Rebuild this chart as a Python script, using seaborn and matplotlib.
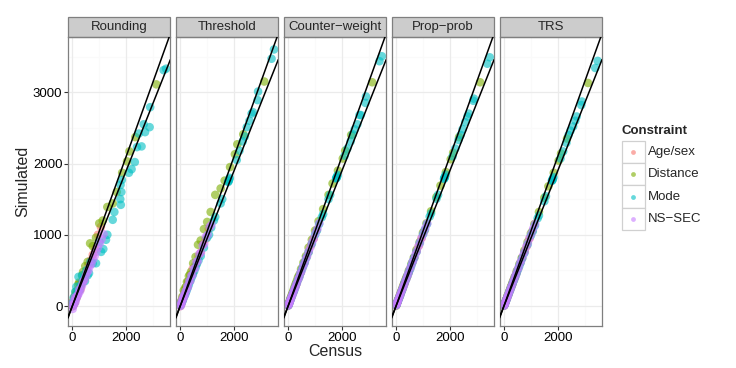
import numpy as np
import pandas as pd
import seaborn as sns
import matplotlib
matplotlib.use("Agg")
import matplotlib.pyplot as plt
from matplotlib.patches import Rectangle

# %% data
methods = ["Rounding", "Threshold", "Counter\u2212weight", "Prop\u2212prob", "TRS"]
constraints = ["Age/sex", "Distance", "Mode", "NS\u2212SEC"]
colors = ["#F8766D", "#7CAE00", "#00BFC4", "#C77CFF"]

age_census = [10, 25, 45, 65, 90, 115, 140, 170, 200, 240, 280, 320, 370, 420, 480,
              540, 610, 680, 760, 850, 950, 1060, 300, 400, 460]
age_rounding = [30, 0, 70, 40, 120, 90, 170, 140, 230, 210, 320, 280, 340, 400, 450,
                500, 580, 640, 720, 800, 1000, 1110, 230, 340, 380]
age_threshold = [0, 40, 30, 80, 80, 130, 130, 190, 190, 260, 270, 340, 360, 440, 470,
                 560, 600, 700, 750, 870, 940, 1080, 330, 430, 520]
age_counter = [10, 30, 45, 70, 90, 120, 140, 175, 200, 245, 280, 325, 370, 425, 480,
               545, 610, 685, 760, 855, 950, 1065, 300, 405, 465]
age_prop = [15, 25, 50, 65, 95, 115, 145, 170, 205, 240, 285, 320, 375, 420, 485,
            540, 615, 680, 765, 850, 955, 1060, 305, 400, 460]
age_trs = [10, 20, 45, 60, 90, 110, 140, 165, 200, 235, 280, 315, 370, 415, 480,
           535, 610, 675, 760, 845, 950, 1055, 295, 395, 455]

dist_census = [5, 20, 40, 60, 80, 105, 130, 160, 190, 220, 250, 285, 320, 360, 400,
               480, 570, 660, 760, 880, 1000, 1130, 1300, 1500, 1650, 1850, 2030, 2120,
               2340, 3120]
dist_rounding = [0, 60, 20, 110, 40, 150, 200, 120, 170, 300, 330, 250, 300, 430, 480,
                 560, 620, 880, 840, 960, 1160, 1200, 1390, 1440, 1600, 1870, 2030, 2170,
                 2370, 3110]
dist_threshold = [20, 40, 70, 80, 130, 130, 220, 200, 260, 270, 340, 340, 420, 440, 480,
                  600, 690, 860, 920, 1080, 1180, 1320, 1560, 1650, 1760, 1950, 2130, 2270,
                  2410, 3150]
dist_counter = [10, 25, 50, 70, 100, 120, 150, 180, 210, 245, 280, 315, 350, 395, 430,
                520, 610, 700, 820, 930, 1060, 1190, 1360, 1560, 1720, 1900, 2070, 2180,
                2400, 3140]
dist_prop = [5, 25, 45, 65, 90, 110, 140, 170, 200, 230, 265, 300, 335, 375, 415,
             500, 590, 680, 790, 900, 1030, 1160, 1330, 1530, 1690, 1880, 2060, 2150,
             2370, 3140]
dist_trs = [5, 20, 45, 60, 85, 105, 140, 160, 195, 225, 260, 290, 330, 365, 410,
            495, 585, 675, 780, 900, 1020, 1150, 1320, 1520, 1680, 1870, 2040, 2140,
            2350, 3130]

mode_census = [10, 30, 50, 80, 110, 150, 190, 230, 270, 320, 370, 420, 470, 520, 570,
               620, 680, 760, 880, 1070, 1250, 1500, 1560, 1800, 1820, 1840, 2100, 2200,
               2320, 2400, 2470, 2570, 2650, 2700, 2870, 2890, 3390, 3480,
               1000, 1150, 1300, 1780, 1790]
mode_rounding = [40, 50, 120, 90, 200, 270, 190, 410, 230, 300, 430, 380, 350, 500, 430,
                 460, 620, 600, 600, 760, 930, 1210, 1320, 1420, 1600, 1770, 1870, 1920,
                 2020, 2230, 2420, 2240, 2550, 2440, 2510, 2790, 3310, 3330,
                 900, 800, 1000, 1500, 1700]
mode_threshold = [10, 30, 50, 70, 100, 140, 170, 210, 250, 300, 350, 400, 440, 490, 540,
                  590, 640, 700, 820, 1000, 1200, 1440, 1500, 1760, 1780, 1800, 2050, 2180,
                  2310, 2380, 2510, 2600, 2700, 2720, 2890, 3010, 3470, 3600,
                  960, 1100, 1250, 1740, 1750]
mode_counter = [10, 30, 50, 80, 110, 150, 190, 225, 270, 320, 370, 415, 470, 520, 570,
                615, 680, 755, 875, 1060, 1245, 1500, 1560, 1800, 1820, 1840, 2110, 2210,
                2310, 2410, 2480, 2550, 2680, 2680, 2850, 2940, 3435, 3505,
                1000, 1150, 1290, 1790, 1800]
mode_prop = [15, 30, 55, 80, 110, 145, 190, 230, 270, 325, 370, 420, 470, 515, 570,
             625, 680, 760, 885, 1070, 1255, 1505, 1560, 1805, 1815, 1845, 2100, 2210,
             2330, 2400, 2480, 2580, 2660, 2700, 2880, 2910, 3400, 3490,
             1005, 1150, 1300, 1785, 1790]
mode_trs = [10, 30, 45, 75, 105, 145, 185, 225, 265, 315, 360, 410, 460, 510, 560,
            610, 670, 745, 865, 1050, 1230, 1470, 1540, 1770, 1790, 1810, 2070, 2170,
            2290, 2400, 2460, 2520, 2600, 2660, 2820, 2870, 3340, 3440,
            990, 1130, 1270, 1760, 1760]

nssec_census = [5, 15, 30, 45, 60, 80, 100, 120, 145, 170, 200, 230, 260, 290, 330,
                370, 410, 450, 500, 550, 600, 650, 710, 770, 830, 890, 950, 1020, 1090, 1160]
nssec_rounding = [20, -40, 0, 70, 20, 40, 120, 60, 100, 130, 150, 170, 230, 210, 260,
                  300, 350, 370, 420, 470, 500, 560, 590, 650, 700, 760, 820, 880, 940, 1010]
nssec_threshold = [10, 0, 40, 30, 80, 70, 120, 110, 160, 150, 210, 220, 280, 270, 350,
                   350, 430, 430, 520, 530, 620, 630, 730, 750, 850, 870, 970, 1000, 1110, 1140]
nssec_counter = [5, 20, 25, 50, 55, 85, 95, 125, 140, 175, 195, 235, 255, 295, 325,
                 375, 405, 455, 495, 555, 595, 655, 705, 775, 825, 895, 945, 1025, 1085, 1165]
nssec_prop = [10, 15, 35, 45, 65, 80, 105, 120, 150, 170, 205, 230, 265, 290, 335,
              370, 415, 450, 505, 550, 605, 650, 715, 770, 835, 890, 955, 1020, 1095, 1160]
nssec_trs = [5, 10, 30, 40, 60, 75, 100, 115, 145, 165, 200, 225, 260, 285, 330,
             365, 410, 445, 500, 545, 600, 645, 710, 765, 830, 885, 950, 1015, 1090, 1155]

census = {"Age/sex": age_census, "Distance": dist_census,
          "Mode": mode_census, "NS\u2212SEC": nssec_census}
simulated = {
    "Rounding": [age_rounding, dist_rounding, mode_rounding, nssec_rounding],
    "Threshold": [age_threshold, dist_threshold, mode_threshold, nssec_threshold],
    "Counter\u2212weight": [age_counter, dist_counter, mode_counter, nssec_counter],
    "Prop\u2212prob": [age_prop, dist_prop, mode_prop, nssec_prop],
    "TRS": [age_trs, dist_trs, mode_trs, nssec_trs],
}

rows = []
for m in methods:
    for c, sim in zip(constraints, simulated[m]):
        rows.append(pd.DataFrame(dict(method=m, Constraint=c,
                                      Census=census[c], Simulated=sim)))
df = pd.concat(rows, ignore_index=True)

# %% plot
sns.set_style("white")
plt.rcParams["font.family"] = ["Liberation Sans", "DejaVu Sans"]

W, H = 736, 368
fig, axes = plt.subplots(1, 5, figsize=(W / 100, H / 100), dpi=100, sharey=True)
fig.subplots_adjust(left=68 / W, right=602 / W, top=1 - 37 / H, bottom=1 - 326 / H,
                    wspace=0.054)

for i, (ax, m) in enumerate(zip(axes, methods)):
    sub = df[df.method == m]
    ax.set_axisbelow(True)
    for v in [1000, 3000]:
        ax.axvline(v, color="#FAFAFA", lw=0.9, zorder=0)
    for v in [500, 1500, 2500, 3500]:
        ax.axhline(v, color="#FAFAFA", lw=0.9, zorder=0)
    for v in [0, 2000]:
        ax.axvline(v, color="#EBEBEB", lw=0.9, zorder=0)
    for v in [0, 1000, 2000, 3000]:
        ax.axhline(v, color="#EBEBEB", lw=0.9, zorder=0)
    sns.scatterplot(data=sub, x="Census", y="Simulated", hue="Constraint",
                    hue_order=constraints, palette=colors, alpha=0.6, s=38,
                    linewidth=0, legend=False, ax=ax, zorder=2)
    ax.axline((0, 0), slope=1.05, color="black", lw=1.1, zorder=3)
    ax.axline((0, 0), slope=0.95, color="black", lw=1.1, zorder=3)
    ax.set_xlim(-160, 3640)
    ax.set_ylim(-280, 3775)
    ax.set_xticks([0, 2000])
    ax.set_yticks([0, 1000, 2000, 3000])
    ax.tick_params(axis="both", length=3, width=0.8, color="#333333",
                   labelsize=9.5, pad=1, labelcolor="black")
    ax.tick_params(axis="x", bottom=True)
    ax.tick_params(axis="y", left=(i == 0))
    for s in ax.spines.values():
        s.set_color("#7F7F7F")
        s.set_linewidth(0.9)
    ax.set_xlabel("")
    ax.set_ylabel("")
    # facet strip
    ax.add_patch(Rectangle((0, 1), 1, 20 / 289, transform=ax.transAxes,
                           facecolor="#CCCCCC", edgecolor="#7F7F7F", lw=0.9,
                           clip_on=False))
    ax.text(0.5, 1 + 10 / 289, m, transform=ax.transAxes, ha="center",
            va="center", fontsize=9.5)

axes[0].set_ylabel("Simulated", fontsize=11.5, labelpad=2)
fig.text(335 / W, 1 - 351 / H, "Census", ha="center", va="center", fontsize=11.5)

# legend
lax = fig.add_axes([0, 0, 1, 1])
lax.set_xlim(0, W)
lax.set_ylim(H, 0)
lax.axis("off")
lax.text(622, 131, "Constraint", fontsize=9.5, fontweight="bold", va="center")
for k, (c, col) in enumerate(zip(constraints, colors)):
    y0 = 141 + k * 22.2
    lax.add_patch(Rectangle((622, y0), 22.5, 22.2, facecolor="white",
                            edgecolor="#D0D0D0", lw=0.9))
    lax.scatter([633.3], [y0 + 11.1], s=12, color=col, alpha=0.6, linewidth=0)
    lax.text(648, y0 + 11.1, c, fontsize=9.5, va="center")

fig.savefig("out.png", dpi=100)
